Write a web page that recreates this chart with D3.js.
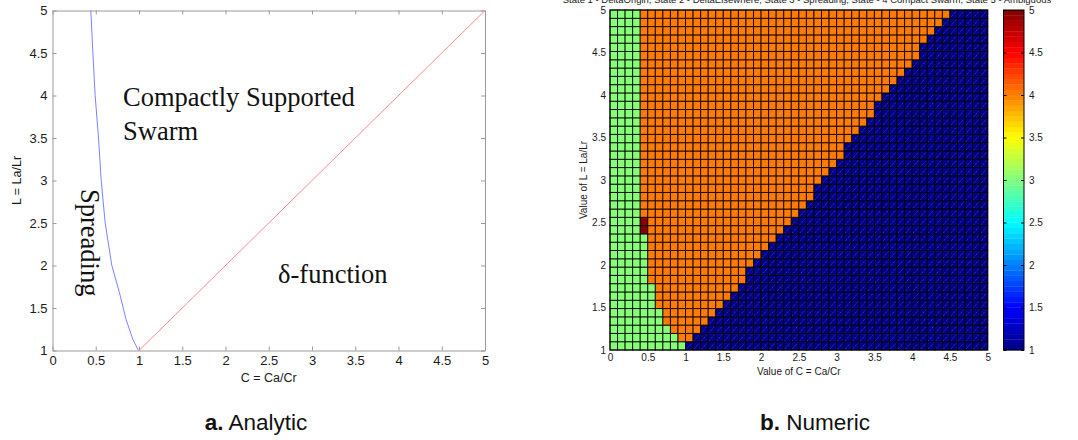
<!DOCTYPE html>
<html>
<head>
<meta charset="utf-8">
<script src="https://cdn.jsdelivr.net/npm/d3@7"></script>
<style>
  body { margin: 0; background: #fff; }
  svg { display: block; }
  text { font-family: "Liberation Sans", Arial, sans-serif; }
</style>
</head>
<body>
<svg id="fig" width="1078" height="440"></svg>
<script>
// ---------------- data ----------------
// axis ticks
const cTicks = [0, 0.5, 1, 1.5, 2, 2.5, 3, 3.5, 4, 4.5, 5];
const lTicks = [1, 1.5, 2, 2.5, 3, 3.5, 4, 4.5, 5];
const stateTicks = [1, 1.5, 2, 2.5, 3, 3.5, 4, 4.5, 5];

// analytic boundaries (C = Ca/Cr, L = La/Lr)
const spreadingL = [5.0, 4.5, 4.0, 3.5, 3.0, 2.5, 2.0, 1.68, 1.36, 1.13, 1.0];
const spreadingC = [0.443, 0.467, 0.493, 0.532, 0.563, 0.609, 0.686, 0.774, 0.852, 0.929, 0.994];
const deltaL = [1, 5];
const deltaC = [1, 5];

// region labels
const regionLabels = ["Compactly Supported", "Swarm", "Spreading", "\u03b4-function"];

// numeric phase map: 50 columns over C in [0,5], 41 rows over L in [1,5]
// per row (bottom to top): number of spreading cells from C = 0
const spreadingCells = [10, 9, 8, 7, 7, 6, 6, 6, 5, 5, 5, 5, 5, 5,
                        4, 4, 4, 4, 4, 4, 4, 4, 4, 4, 4, 4, 4, 4, 4, 4, 4, 4, 4, 4, 4, 4, 4, 4, 4, 4, 4];
// per row: first column that collapses to a delta at the origin
const deltaStartCol = [10, 11, 12, 13, 14, 15, 16, 17, 18, 18,
                       19, 20, 21, 22, 23, 24, 25, 26, 27, 27,
                       28, 29, 30, 31, 31, 32, 33, 34, 35, 35,
                       36, 37, 38, 39, 40, 41, 41, 42, 43, 44, 45];
// ambiguous cells [column, row]
const ambiguousCells = [[4, 14], [4, 15]];
// state codes
const STATE_DELTA = 1, STATE_SPREAD = 3, STATE_SWARM = 4, STATE_AMBIG = 5;

const numericTitle = "State 1 - DeltaOrigin, State 2 - DeltaElsewhere, State 3 - Spreading, State - 4 Compact Swarm, State 5 - Ambiguous";

// ---------------- helpers ----------------
const svg = d3.select("#fig");
const fmt = d => String(d);

// MATLAB-style jet colormap, 64 levels
const jetRamp = d3.scaleLinear()
  .domain([0, 1/8, 3/8, 5/8, 7/8, 1])
  .range(["#000080", "#0000ff", "#00ffff", "#ffff00", "#ff0000", "#800000"])
  .clamp(true);
const nLevels = 64;
function jetColor(v, lo = 1, hi = 5) {
  const k = Math.max(0, Math.min(nLevels - 1, Math.floor((v - lo) / (hi - lo) * nLevels)));
  return jetRamp((k + 0.5) / nLevels);
}

// ---------------- (a) analytic ----------------
const ax = d3.scaleLinear().domain([0, 5]).range([52.5, 485]);
const ay = d3.scaleLinear().domain([1, 5]).range([350.5, 10.5]);
const gA = svg.append("g");

function styleAxis(g, labels) {
  g.selectAll(".domain").attr("stroke", "#9a9a9a");
  g.selectAll(".tick line").attr("stroke", "#9a9a9a");
  g.selectAll(".tick text").attr("fill", "#1a1a1a").style("font-size", "13px")
    .style("font-family", '"Liberation Sans", Arial, sans-serif');
  if (!labels) g.selectAll(".tick text").remove();
}

gA.append("g").attr("transform", `translate(0,${ay(1)})`)
  .call(d3.axisBottom(ax).tickValues(cTicks).tickFormat(fmt).tickSizeInner(-4).tickSizeOuter(0).tickPadding(5))
  .call(g => styleAxis(g, true));
gA.append("g").attr("transform", `translate(0,${ay(5)})`)
  .call(d3.axisTop(ax).tickValues(cTicks).tickSizeInner(-4).tickSizeOuter(0))
  .call(g => styleAxis(g, false));
gA.append("g").attr("transform", `translate(${ax(0)},0)`)
  .call(d3.axisLeft(ay).tickValues(lTicks).tickFormat(fmt).tickSizeInner(-4).tickSizeOuter(0).tickPadding(5))
  .call(g => styleAxis(g, true));
gA.append("g").attr("transform", `translate(${ax(5)},0)`)
  .call(d3.axisRight(ay).tickValues(lTicks).tickSizeInner(-4).tickSizeOuter(0))
  .call(g => styleAxis(g, false));

const lineA = d3.line().x(d => ax(d[0])).y(d => ay(d[1]));
gA.append("path")
  .datum(spreadingC.map((c, i) => [c, spreadingL[i]]))
  .attr("d", lineA)
  .attr("fill", "none").attr("stroke", "#8080ff").attr("stroke-width", 1);
gA.append("path")
  .datum(deltaC.map((c, i) => [c, deltaL[i]]))
  .attr("d", lineA)
  .attr("fill", "none").attr("stroke", "#ff8c8c").attr("stroke-width", 1);

const serif = '"Liberation Serif", "Times New Roman", serif';
function regionText(label, transform) {
  gA.append("text").attr("transform", transform).text(label)
    .style("font-family", serif).style("font-size", "26.5px").attr("fill", "#111");
}
regionText(regionLabels[0], "translate(123,106)");
regionText(regionLabels[1], "translate(123,140)");
regionText(regionLabels[2], "translate(81,189) rotate(90)");
regionText(regionLabels[3], "translate(278,283)");

gA.append("text").attr("x", (ax(0) + ax(5)) / 2).attr("y", 382).attr("text-anchor", "middle")
  .style("font-size", "12.5px").attr("fill", "#1a1a1a").text("C = Ca/Cr");
gA.append("text").attr("transform", `translate(21,${(ay(1) + ay(5)) / 2}) rotate(-90)`)
  .attr("text-anchor", "middle").style("font-size", "12.5px").attr("fill", "#1a1a1a").text("L = La/Lr");

// ---------------- (b) numeric ----------------
const nx = d3.scaleLinear().domain([0, 5]).range([610, 987.7]);
const ny = d3.scaleLinear().domain([1, 5]).range([350, 10]);
const nCols = 50, nRows = spreadingCells.length;
const dC = 5 / nCols, dL = 4 / nRows;

const cells = [];
for (let r = 0; r < nRows; r++) {
  for (let c = 0; c < nCols; c++) {
    let s = STATE_SWARM;
    if (c < spreadingCells[r]) s = STATE_SPREAD;
    else if (c >= deltaStartCol[r]) s = STATE_DELTA;
    cells.push({ c, r, s });
  }
}
ambiguousCells.forEach(([c, r]) => { cells.find(d => d.c === c && d.r === r).s = STATE_AMBIG; });

const gN = svg.append("g");
const cx0 = d => nx(d.c * dC), cx1 = d => nx((d.c + 1) * dC);
const cy0 = d => ny(1 + (d.r + 1) * dL), cy1 = d => ny(1 + d.r * dL);

gN.selectAll("rect.cell").data(cells).join("rect").attr("class", "cell")
  .attr("x", cx0).attr("y", cy0)
  .attr("width", d => cx1(d) - cx0(d)).attr("height", d => cy1(d) - cy0(d))
  .attr("fill", d => jetColor(d.s))
  .attr("stroke", "#000").attr("stroke-opacity", 0.85).attr("stroke-width", 1);

// faint rendering diagonals seen inside each face
gN.selectAll("line.diag").data(cells.filter(d => d.s === STATE_DELTA || d.s === STATE_SWARM)).join("line")
  .attr("class", "diag")
  .attr("x1", d => cx0(d) + 1).attr("y1", d => cy1(d) - 1)
  .attr("x2", d => cx1(d) - 1).attr("y2", d => cy0(d) + 1)
  .attr("stroke", d => d.s === STATE_DELTA ? "#6a6af0" : "#ffb070")
  .attr("stroke-width", 0.7).attr("stroke-dasharray", "1,1").attr("stroke-opacity", 0.8);

gN.append("rect").attr("x", nx(0)).attr("y", ny(5)).attr("width", nx(5) - nx(0)).attr("height", ny(1) - ny(5))
  .attr("fill", "none").attr("stroke", "#000").attr("stroke-width", 1);

function styleN(g) {
  g.select(".domain").remove();
  g.selectAll(".tick line").remove();
  g.selectAll(".tick text").attr("fill", "#1a1a1a").style("font-size", "10px");
}
gN.append("g").attr("transform", `translate(0,${ny(1)})`)
  .call(d3.axisBottom(nx).tickValues(cTicks).tickFormat(fmt).tickSize(0).tickPadding(4)).call(styleN);
gN.append("g").attr("transform", `translate(${nx(0)},0)`)
  .call(d3.axisLeft(ny).tickValues(lTicks).tickFormat(fmt).tickSize(0).tickPadding(4)).call(styleN);

gN.append("text").attr("x", (nx(0) + nx(5)) / 2).attr("y", 375).attr("text-anchor", "middle")
  .style("font-size", "10px").attr("fill", "#1a1a1a").text("Value of C = Ca/Cr");
gN.append("text").attr("transform", `translate(587,${(ny(1) + ny(5)) / 2}) rotate(-90)`)
  .attr("text-anchor", "middle").style("font-size", "10px").attr("fill", "#1a1a1a").text("Value of L = La/Lr");
gN.append("text").attr("x", 807).attr("y", 3).attr("text-anchor", "middle")
  .style("font-size", "9.5px").attr("fill", "#1a1a1a").text(numericTitle);

// colorbar
const cbX = 1003.5, cbW = 20.5;
const cy = d3.scaleLinear().domain([1, 5]).range([350, 10]);
const bands = d3.range(nLevels);
const gC = svg.append("g");
gC.selectAll("rect.band").data(bands).join("rect").attr("class", "band")
  .attr("x", cbX).attr("width", cbW)
  .attr("y", k => cy(1 + (k + 1) * 4 / nLevels)).attr("height", k => cy(1 + k * 4 / nLevels) - cy(1 + (k + 1) * 4 / nLevels) + 0.3)
  .attr("fill", k => jetRamp((k + 0.5) / nLevels));
gC.append("rect").attr("x", cbX).attr("y", cy(5)).attr("width", cbW).attr("height", cy(1) - cy(5))
  .attr("fill", "none").attr("stroke", "#000").attr("stroke-width", 1);
gC.append("g").attr("transform", `translate(${cbX + cbW},0)`)
  .call(d3.axisRight(cy).tickValues(stateTicks).tickFormat(fmt).tickSizeInner(-3).tickSizeOuter(0).tickPadding(5))
  .call(g => { g.select(".domain").remove(); g.selectAll(".tick line").attr("stroke", "#000");
               g.selectAll(".tick text").attr("fill", "#1a1a1a").style("font-size", "10px"); });
gC.append("g").attr("transform", `translate(${cbX},0)`)
  .call(d3.axisLeft(cy).tickValues(stateTicks).tickFormat("").tickSizeInner(-3).tickSizeOuter(0))
  .call(g => { g.select(".domain").remove(); g.selectAll(".tick line").attr("stroke", "#000"); });

// ---------------- captions ----------------
const captions = [["a.", " Analytic", 256], ["b.", " Numeric", 815]];
captions.forEach(([tag, name, x]) => {
  const t = svg.append("text").attr("x", x).attr("y", 430).attr("text-anchor", "middle")
    .style("font-size", "22.5px").attr("fill", "#111");
  t.append("tspan").style("font-weight", "bold").text(tag);
  t.append("tspan").text(name);
});
</script>
</body>
</html>
